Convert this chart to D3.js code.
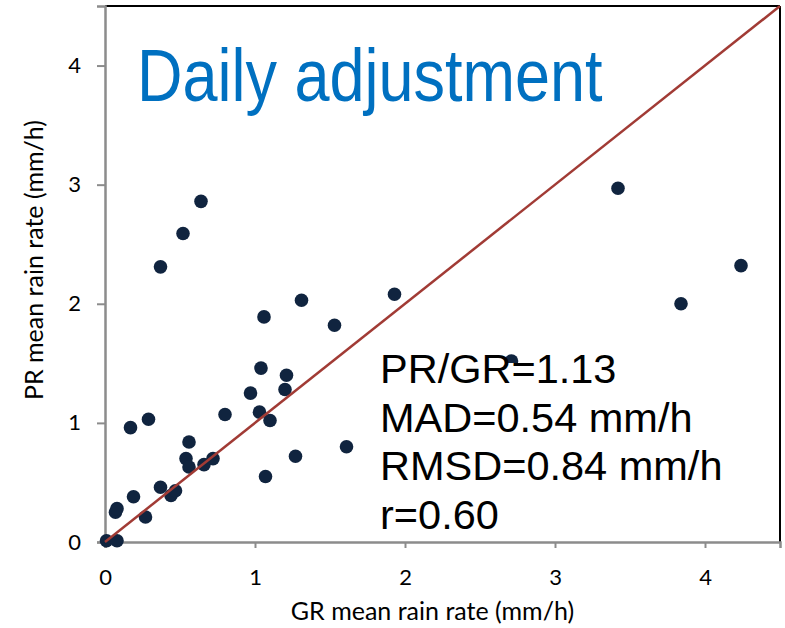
<!DOCTYPE html>
<html><head><meta charset="utf-8">
<script src="https://cdn.jsdelivr.net/npm/d3@7"></script>
<style>body{margin:0;background:#fff}svg{display:block}</style>
</head><body>
<svg id="c" width="785" height="628"></svg>
<script>
const grValues = [0.01,0.08,0.07,0.08,0.19,0.27,0.17,0.29,0.37,0.44,0.47,0.54,0.56,0.56,0.66,0.72,0.80,0.97,1.04,1.03,1.06,1.10,1.07,1.21,1.20,1.31,1.27,1.53,1.61,1.93,2.71,0.37,0.52,0.64,3.42,3.84,4.24];
const prValues = [0.01,0.01,0.25,0.28,0.38,0.21,0.96,1.03,0.46,0.39,0.43,0.70,0.63,0.84,0.65,0.70,1.07,1.25,1.46,1.09,1.89,1.02,0.55,1.40,1.28,2.03,0.72,1.82,0.80,2.08,1.52,2.31,2.59,2.86,2.97,2.00,2.32];
const tickValues = [0,1,2,3,4];
const statLines = ["PR/GR=1.13","MAD=0.54 mm/h","RMSD=0.84 mm/h","r=0.60"];
const titleText = "Daily adjustment";
const xLabel = "GR mean rain rate (mm/h)";
const yLabel = "PR mean rain rate (mm/h)";

const svg = d3.select("#c");
const L=105, R=780, T=6, B=542;
const x = d3.scaleLinear().domain([0,4.5]).range([L,R]);
const y = d3.scaleLinear().domain([0,4.5]).range([B,T]);
const axisFont = "Lato, 'Open Sans', sans-serif";

// frame
svg.append("line").attr("x1",L).attr("x2",R).attr("y1",T).attr("y2",T).attr("stroke","#000").attr("stroke-width",2);
svg.append("line").attr("x1",R).attr("x2",R).attr("y1",T).attr("y2",B).attr("stroke","#000").attr("stroke-width",2);

const gx = svg.append("g").attr("transform",`translate(0,${B})`)
  .call(d3.axisBottom(x).tickValues(tickValues).tickFormat(d3.format("d")).tickSize(6).tickPadding(21));
const gy = svg.append("g").attr("transform",`translate(${L},0)`)
  .call(d3.axisLeft(y).tickValues(tickValues).tickFormat(d3.format("d")).tickSize(8).tickPadding(16));
[gx,gy].forEach(g=>{
  g.select(".domain").attr("stroke","#8c8c8c").attr("stroke-width",2.5);
  g.selectAll(".tick line").attr("stroke","#8c8c8c").attr("stroke-width",2);
  g.selectAll(".tick text").attr("font-family",axisFont).attr("font-size",22).attr("fill","#000");
});

// points
svg.append("g").selectAll("circle").data(grValues.map((g,i)=>[g,prValues[i]])).join("circle")
  .attr("cx",d=>x(d[0])).attr("cy",d=>y(d[1])).attr("r",6.8).attr("fill","#10243f");

// 1:1 line
svg.append("line").attr("x1",x(0)).attr("y1",y(0)).attr("x2",x(4.5)).attr("y2",y(4.5))
  .attr("stroke","#a13b35").attr("stroke-width",2.5);

// stats box
svg.append("rect").attr("x",376).attr("y",363).attr("width",354).attr("height",176).attr("fill","#fff");
svg.append("g").selectAll("text").data(statLines).join("text")
  .attr("x",380).attr("y",(d,i)=>383+i*48.5)
  .attr("font-family","'Liberation Sans', Arial, sans-serif").attr("font-size",41.5).attr("fill","#000")
  .text(d=>d);

// title
svg.append("text").attr("transform","translate(137,101) scale(1,1.17)")
  .attr("font-family","'Liberation Sans', Arial, sans-serif").attr("font-size",63).attr("fill","#0070c0")
  .text(titleText);

// axis titles
svg.append("text").attr("x",432.5).attr("y",620).attr("text-anchor","middle")
  .attr("font-family",axisFont).attr("font-size",25).attr("fill","#000").text(xLabel);
svg.append("text").attr("transform","translate(43,260) rotate(-90)").attr("text-anchor","middle")
  .attr("font-family",axisFont).attr("font-size",25).attr("fill","#000").text(yLabel);
</script>
</body></html>
